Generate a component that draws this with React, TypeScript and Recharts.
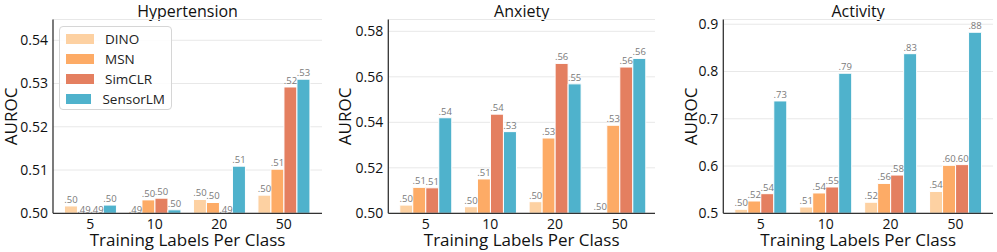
import { BarChart, Bar, XAxis, YAxis, CartesianGrid, LabelList, Legend } from "recharts";

const groups = ["5", "10", "20", "50"];
const methods = ["DINO", "MSN", "SimCLR", "SensorLM"];
const colors = ["#fdd1a2", "#fdab66", "#e47f60", "#4fb2cc"];

// AUROC (truncated to 2 digits in the labels)
const hypertensionDino = [0.5017, 0.4993, 0.5032, 0.5042];
const hypertensionMsn = [0.4994, 0.5031, 0.5025, 0.5102];
const hypertensionSimclr = [0.4994, 0.5035, 0.4993, 0.5292];
const hypertensionSensorlm = [0.5019, 0.5008, 0.5109, 0.531];

const anxietyDino = [0.5036, 0.5029, 0.5051, 0.5002];
const anxietyMsn = [0.5114, 0.5151, 0.5331, 0.5387];
const anxietySimclr = [0.5112, 0.5436, 0.5659, 0.5643];
const anxietySensorlm = [0.542, 0.5359, 0.5569, 0.5681];

const activityDino = [0.5085, 0.5133, 0.5234, 0.5462];
const activityMsn = [0.526, 0.543, 0.5632, 0.6015];
const activitySimclr = [0.5415, 0.5557, 0.5809, 0.603];
const activitySensorlm = [0.7377, 0.7963, 0.8377, 0.883];

const hypertensionTicks = [0.5, 0.51, 0.52, 0.53, 0.54];
const anxietyTicks = [0.5, 0.52, 0.54, 0.56, 0.58];
const activityTicks = [0.5, 0.6, 0.7, 0.8, 0.9];

const font = "'Open Sans', 'DejaVu Sans', sans-serif";
const H = 252;
const TOP = 19.5;
const AXIS_Y = 213.3;

function buildRows(series: number[][]) {
  return groups.map((g, i) => {
    const row: Record<string, string | number> = { group: g };
    methods.forEach((m, j) => {
      row[m] = series[j][i];
    });
    return row;
  });
}

const fmtValue = (v: number) => (Math.floor(v * 100 + 1e-6) / 100).toFixed(2).slice(1);

function makeValueLabel(base: number) {
  return (props: any) => {
    const { x, y, width, height, value } = props;
    const top = value >= base ? Math.min(y, y + height) : Math.max(y, y + height);
    return (
      <text
        x={x + width / 2}
        y={top - 3}
        textAnchor="middle"
        fontSize={9.5}
        fontFamily={font}
        fill="#7a7a7a"
      >
        {fmtValue(value)}
      </text>
    );
  };
}

function LegendBox() {
  return (
    <div
      style={{
        background: "rgba(255,255,255,0.85)",
        border: "1px solid #d6d6d6",
        borderRadius: 4,
        padding: "2px 6px",
        fontFamily: font,
        fontSize: 13.5,
        color: "#222",
        boxSizing: "border-box",
        width: 113,
        height: 84,
      }}
    >
      {methods.map((m, i) => (
        <div key={m} style={{ display: "flex", alignItems: "center", height: 20 }}>
          <span
            style={{
              display: "inline-block",
              width: 28,
              height: 10,
              background: colors[i],
              marginRight: 11,
            }}
          />
          <span>{m}</span>
        </div>
      ))}
    </div>
  );
}

interface PanelProps {
  title: string;
  rows: Record<string, string | number>[];
  domain: [number, number];
  ticks: number[];
  digits: number;
  left: number;
  width: number;
  yAxisWidth: number;
  marginRight: number;
  padLeft: number;
  padRight: number;
  labelX: number;
  legend?: boolean;
}

function Panel({
  title,
  rows,
  domain,
  ticks,
  digits,
  left,
  width,
  yAxisWidth,
  marginRight,
  padLeft,
  padRight,
  labelX,
  legend,
}: PanelProps) {
  const plotCenter = (yAxisWidth + width - marginRight) / 2;
  const midY = (TOP + AXIS_Y) / 2;
  const ValueLabel = makeValueLabel(domain[0]);
  return (
    <div style={{ position: "absolute", left, top: 0, width, height: H }}>
      <div
        style={{
          position: "absolute",
          left: plotCenter - 100,
          width: 200,
          top: 0,
          height: 22,
          lineHeight: "22px",
          textAlign: "center",
          fontFamily: font,
          fontSize: 16,
          color: "#111",
        }}
      >
        {title}
      </div>
      <BarChart
        width={width}
        height={H}
        data={rows}
        margin={{ top: TOP, right: marginRight, bottom: H - AXIS_Y - 38, left: 0 }}
        barCategoryGap="10%"
        barGap={0}
      >
        <CartesianGrid horizontal vertical={false} stroke="#e8e8e8" strokeWidth={1} />
        {methods.map((m, i) => (
          <Bar
            key={m}
            dataKey={m}
            fill={colors[i]}
            stroke="#ffffff"
            strokeWidth={1}
            isAnimationActive={false}
          >
            <LabelList dataKey={m} content={ValueLabel} />
          </Bar>
        ))}
        <XAxis
          dataKey="group"
          height={38}
          padding={{ left: padLeft, right: padRight }}
          tickLine={false}
          tickSize={0}
          tickMargin={6}
          axisLine={{ stroke: "#333", strokeWidth: 1.3 }}
          tick={{ fill: "#111", fontSize: 14, fontFamily: font }}
          label={{
            value: "Training Labels Per Class",
            position: "insideBottom",
            offset: 5,
            fill: "#111",
            fontSize: 17,
            fontFamily: font,
          }}
        />
        <YAxis
          type="number"
          domain={domain}
          allowDataOverflow
          ticks={ticks}
          width={yAxisWidth}
          tickLine={false}
          tickSize={0}
          tickMargin={5}
          axisLine={{ stroke: "#333", strokeWidth: 1.3 }}
          tick={{ fill: "#111", fontSize: 14, fontFamily: font }}
          tickFormatter={(v: number) => v.toFixed(digits)}
          label={{
            content: () => (
              <text
                x={labelX}
                y={midY}
                transform={`rotate(-90, ${labelX}, ${midY})`}
                textAnchor="middle"
                dominantBaseline="central"
                fontSize={17}
                fontFamily={font}
                fill="#111"
              >
                AUROC
              </text>
            ),
          }}
        />
        {legend && (
          <Legend
            layout="vertical"
            align="center"
            verticalAlign="middle"
            content={() => <LegendBox />}
            wrapperStyle={{ left: 59, top: 26, width: 113, height: 84 }}
          />
        )}
      </BarChart>
    </div>
  );
}

export default function App() {
  return (
    <div style={{ position: "absolute", left: 0, top: 0, width: 997, height: H, background: "#fff" }}>
      <Panel
        title="Hypertension"
        rows={buildRows([hypertensionDino, hypertensionMsn, hypertensionSimclr, hypertensionSensorlm])}
        domain={[0.5, 0.5448]}
        ticks={hypertensionTicks}
        digits={2}
        left={0}
        width={330}
        yAxisWidth={53}
        marginRight={8}
        padLeft={5}
        padRight={6}
        labelX={11}
        legend
      />
      <Panel
        title="Anxiety"
        rows={buildRows([anxietyDino, anxietyMsn, anxietySimclr, anxietySensorlm])}
        domain={[0.5, 0.5852]}
        ticks={anxietyTicks}
        digits={2}
        left={330}
        width={330}
        yAxisWidth={58.3}
        marginRight={5}
        padLeft={5}
        padRight={3}
        labelX={15}
      />
      <Panel
        title="Activity"
        rows={buildRows([activityDino, activityMsn, activitySimclr, activitySensorlm])}
        domain={[0.5, 0.91]}
        ticks={activityTicks}
        digits={1}
        left={660}
        width={337}
        yAxisWidth={63.3}
        marginRight={4}
        padLeft={5}
        padRight={5}
        labelX={31}
      />
    </div>
  );
}
